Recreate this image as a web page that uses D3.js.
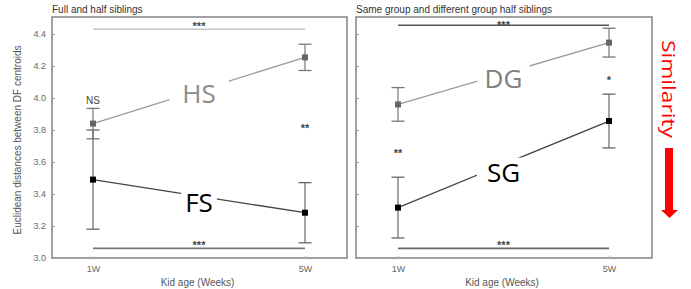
<!DOCTYPE html>
<html><head><meta charset="utf-8">
<script src="https://cdn.jsdelivr.net/npm/d3@7"></script>
<style>body{margin:0;background:#fff}svg{display:block}</style>
</head><body>
<script>
const ages = ["1W", "5W"];
const yTicks = [3.0, 3.2, 3.4, 3.6, 3.8, 4.0, 4.2, 4.4];
// Left panel: full (FS) and half (HS) siblings
const hsMean = [3.84, 4.254];
const hsErr = [0.095, 0.082];
const fsMean = [3.49, 3.283];
const fsErr = [0.31, 0.188];
// Right panel: same group (SG) and different group (DG) half siblings
const dgMean = [3.96, 4.346];
const dgErr = [0.105, 0.09];
const sgMean = [3.315, 3.856];
const sgErr = [0.19, 0.168];
const titles = ["Full and half siblings", "Same group and different group half siblings"];
const yTitle = "Euclidean distances between DF centroids";
const xTitle = "Kid age (Weeks)";

const W = 691, H = 289;
const svg = d3.select("body").append("svg").attr("width", W).attr("height", H);
const y = d3.scaleLinear().domain([3.0, 4.5]).range([258, 18]);
const starFont = "bold 11px 'Liberation Sans', Arial, sans-serif";

function panel(cfg) {
  const g = svg.append("g");
  const x = d3.scalePoint().domain(ages).range([cfg.x1, cfg.x2]);
  // frame
  g.append("rect").attr("x", cfg.left).attr("y", 17).attr("width", cfg.right - cfg.left)
    .attr("height", 241).attr("fill", "none").attr("stroke", "#8a8a8a").attr("stroke-width", 1.6);
  // y axis
  const ya = d3.axisLeft(y).tickValues(yTicks).tickSize(-3).tickPadding(6)
    .tickFormat(cfg.labels ? d3.format(".1f") : () => "");
  const yg = g.append("g").attr("transform", `translate(${cfg.left},0)`).call(ya);
  yg.select(".domain").remove();
  yg.selectAll("line").attr("stroke", "#999");
  yg.selectAll("text").attr("fill", "#666").style("font", "9px 'Liberation Sans', Arial, sans-serif");
  // x axis
  const xa = d3.axisBottom(x).tickSize(-2).tickPadding(8);
  const xg = g.append("g").attr("transform", "translate(0,258)").call(xa);
  xg.select(".domain").remove();
  xg.selectAll("line").attr("stroke", "#bbb");
  xg.selectAll("text").attr("fill", "#666").style("font", "9px 'Liberation Sans', Arial, sans-serif");
  g.append("text").attr("x", (cfg.left + cfg.right) / 2 - 2).attr("y", 286).attr("text-anchor", "middle")
    .attr("fill", "#555").style("font", "10px 'Liberation Sans', Arial, sans-serif").text(xTitle);
  // title
  g.append("text").attr("x", cfg.left).attr("y", 13).attr("fill", "#333")
    .style("font", "10px 'Liberation Sans', Arial, sans-serif").text(cfg.title);

  // significance lines
  cfg.sig.forEach(s => {
    g.append("line").attr("x1", x(ages[0])).attr("x2", x(ages[1])).attr("y1", y(s.v)).attr("y2", y(s.v))
      .attr("stroke", s.c).attr("stroke-width", 1.6);
    g.append("text").attr("x", (x(ages[0]) + x(ages[1])) / 2).attr("y", y(s.v) + s.dy)
      .attr("text-anchor", "middle").attr("fill", "#444")
      .style("font", starFont).text("***");
  });

  // series
  cfg.series.forEach(s => {
    const pts = s.mean.map((m, i) => ({ a: ages[i], m, e: s.err[i] }));
    g.append("path").datum(pts).attr("fill", "none").attr("stroke", s.line).attr("stroke-width", 1.3)
      .attr("d", d3.line().x(d => x(d.a)).y(d => y(d.m)));
    pts.forEach(d => {
      const cx = x(d.a);
      g.append("line").attr("x1", cx).attr("x2", cx).attr("y1", y(d.m + d.e)).attr("y2", y(d.m - d.e))
        .attr("stroke", s.bar).attr("stroke-width", 1.2);
      [d.m + d.e, d.m - d.e].forEach(v => g.append("line").attr("x1", cx - 6.5).attr("x2", cx + 6.5)
        .attr("y1", y(v)).attr("y2", y(v)).attr("stroke", s.bar).attr("stroke-width", 1.3));
      g.append("rect").attr("x", cx - 3).attr("y", y(d.m) - 3).attr("width", 6).attr("height", 6)
        .attr("fill", s.pt);
    });
    // big label with white background
    const lx = (x(ages[0]) + x(ages[1])) / 2;
    const t = g.append("text").attr("x", lx).attr("y", y(s.labelV)).attr("text-anchor", "middle")
      .attr("dominant-baseline", "central").attr("fill", s.lc)
      .style("font", "26px 'Open Sans', 'Noto Sans', sans-serif").text(s.label);
    const bb = t.node().getBBox();
    g.insert("rect", () => t.node()).attr("x", bb.x - s.pad).attr("y", bb.y + 4)
      .attr("width", bb.width + 2 * s.pad).attr("height", bb.height - 8).attr("fill", "#fff");
  });

  // small annotations
  cfg.notes.forEach(n => {
    const isNS = n.t === "NS";
    g.append("text").attr("x", x(n.a)).attr("y", y(n.v) + (isNS ? 4 : 7)).attr("text-anchor", "middle")
      .attr("fill", "#444")
      .style("font", isNS ? "10px 'Liberation Sans', Arial, sans-serif" : starFont)
      .text(n.t);
  });
}

panel({
  left: 52, right: 347, x1: 93, x2: 305, labels: true, title: titles[0],
  sig: [{ v: 4.43, c: "#c4c4c4", dy: 1 }, { v: 3.06, c: "#777", dy: 1 }],
  series: [
    { mean: hsMean, err: hsErr, line: "#9a9a9a", bar: "#777", pt: "#666", label: "HS", labelV: 4.03, lc: "#8c8c8c", pad: 13 },
    { mean: fsMean, err: fsErr, line: "#444", bar: "#666", pt: "#000", label: "FS", labelV: 3.35, lc: "#000", pad: 4 }
  ],
  notes: [{ a: "1W", v: 3.99, t: "NS" }, { a: "5W", v: 3.83, t: "**" }]
});

panel({
  left: 356, right: 652, x1: 398, x2: 609, labels: false, title: titles[1],
  sig: [{ v: 4.455, c: "#555", dy: 4 }, { v: 3.06, c: "#666", dy: 1 }],
  series: [
    { mean: dgMean, err: dgErr, line: "#999", bar: "#777", pt: "#666", label: "DG", labelV: 4.125, lc: "#808080", pad: 7 },
    { mean: sgMean, err: sgErr, line: "#444", bar: "#666", pt: "#000", label: "SG", labelV: 3.54, lc: "#000", pad: 10 }
  ],
  notes: [{ a: "5W", v: 4.13, t: "*" }, { a: "1W", v: 3.675, t: "**" }]
});

// y axis title
svg.append("text").attr("transform", "translate(17,140) rotate(-90)").attr("text-anchor", "middle")
  .attr("dominant-baseline", "central").attr("fill", "#555")
  .style("font", "10px 'Liberation Sans', Arial, sans-serif").text(yTitle);

// Similarity label and arrow
svg.append("text").attr("transform", "translate(669,89) rotate(90)").attr("text-anchor", "middle")
  .attr("dominant-baseline", "central").attr("fill", "#ff0000")
  .attr("textLength", 98).attr("lengthAdjust", "spacingAndGlyphs")
  .style("font", "19px 'Open Sans', 'Noto Sans', sans-serif").text("Similarity");
const arrow = d3.path();
arrow.moveTo(665, 148); arrow.lineTo(673, 148); arrow.lineTo(673, 210); arrow.lineTo(678, 210);
arrow.lineTo(669.5, 218); arrow.lineTo(661, 210); arrow.lineTo(665, 210); arrow.closePath();
svg.append("path").attr("fill", "#ff0000").attr("d", arrow.toString());
</script>
</body></html>
